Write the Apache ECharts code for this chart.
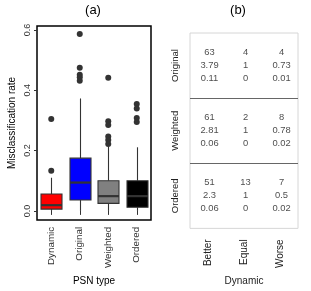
<!DOCTYPE html>
<html><head><meta charset="utf-8">
<script src="https://cdn.jsdelivr.net/npm/echarts@6/dist/echarts.min.js"></script>
<style>html,body{margin:0;padding:0;background:#fff}#c{width:311px;height:291px}</style>
</head><body><div id="c"></div>
<script>
// ---- Panel (a) data ----
const categories = ['Dynamic', 'Original', 'Weighted', 'Ordered'];
const boxColors = ['#ff0000', '#0000ff', '#808080', '#000000'];
// [min, Q1, median, Q3, max]
const boxDynamic  = [0, 0.006, 0.019, 0.056, 0.110];
const boxOriginal = [0, 0.036, 0.094, 0.175, 0.373];
const boxWeighted = [0, 0.025, 0.049, 0.100, 0.213];
const boxOrdered  = [0, 0.012, 0.049, 0.100, 0.211];
const outDynamic  = [0.133, 0.305];
const outOriginal = [0.587, 0.475, 0.452, 0.443, 0.432];
const outWeighted = [0.442, 0.297, 0.285, 0.247, 0.235, 0.222];
const outOrdered  = [0.355, 0.340, 0.308, 0.295];
const yTicks = [0, 0.2, 0.4, 0.6];

// ---- Panel (b) data ----
const tableRows = ['Original', 'Weighted', 'Ordered'];
const tableCols = ['Better', 'Equal', 'Worse'];
const countOriginal = ['63', '4', '4'];
const countWeighted = ['61', '2', '8'];
const countOrdered  = ['51', '13', '7'];
const ratioOriginal = ['3.79', '1', '0.73'];
const ratioWeighted = ['2.81', '1', '0.78'];
const ratioOrdered  = ['2.3', '1', '0.5'];
const diffOriginal  = ['0.11', '0', '0.01'];
const diffWeighted  = ['0.06', '0', '0.02'];
const diffOrdered   = ['0.06', '0', '0.02'];

const boxes = [boxDynamic, boxOriginal, boxWeighted, boxOrdered];
const outs = [outDynamic, outOriginal, outWeighted, outOrdered];
const counts = [countOriginal, countWeighted, countOrdered];
const ratios = [ratioOriginal, ratioWeighted, ratioOrdered];
const diffs = [diffOriginal, diffWeighted, diffOrdered];

const FONT = '"Liberation Sans", Arial, sans-serif';
const EDGE = '#333333';

const boxData = boxes.map((b, i) => [i].concat(b));
const outData = [];
outs.forEach((arr, i) => arr.forEach(v => outData.push([i, v])));

const cellData = [];
tableRows.forEach((r, ri) => tableCols.forEach((c, ci) => {
  cellData.push({ value: [ci, ri], txt: counts[ri][ci] + '\n' + ratios[ri][ci] + '\n' + diffs[ri][ci] });
}));

function renderBox(params, api) {
  const i = api.value(0);
  const pMin = api.coord([i, api.value(1)]);
  const pQ1 = api.coord([i, api.value(2)]);
  const pMed = api.coord([i, api.value(3)]);
  const pQ3 = api.coord([i, api.value(4)]);
  const pMax = api.coord([i, api.value(5)]);
  const w = 21;
  const x = Math.round(pMed[0]) + 0.5;
  const lineStyle = { stroke: EDGE, lineWidth: 1.1 };
  return {
    type: 'group',
    children: [
      { type: 'line', shape: { x1: x, y1: pMax[1], x2: x, y2: pQ3[1] }, style: lineStyle },
      { type: 'line', shape: { x1: x, y1: pQ1[1], x2: x, y2: pMin[1] }, style: lineStyle },
      { type: 'rect', shape: { x: x - w / 2, y: pQ3[1], width: w, height: pQ1[1] - pQ3[1] },
        style: { fill: boxColors[i], stroke: EDGE, lineWidth: 1.1 } },
      { type: 'line', shape: { x1: x - w / 2, y1: pMed[1], x2: x + w / 2, y2: pMed[1] },
        style: { stroke: EDGE, lineWidth: 2.2 } }
    ]
  };
}

const chart = echarts.init(document.getElementById('c'), null, { renderer: 'canvas' });
chart.setOption({
  animation: false,
  textStyle: { fontFamily: FONT },
  graphic: [
    { type: 'text', x: 93, y: 10, style: { text: '(a)', font: '13px ' + FONT, fill: '#000', align: 'center', verticalAlign: 'middle' } },
    { type: 'text', x: 238, y: 10, style: { text: '(b)', font: '13px ' + FONT, fill: '#000', align: 'center', verticalAlign: 'middle' } }
  ],
  grid: [
    { left: 37, width: 114, top: 26, height: 194, show: true, borderColor: '#000', borderWidth: 1.5, backgroundColor: 'transparent', containLabel: false },
    { left: 190, width: 108, top: 33, height: 196, show: true, borderColor: '#d6d6d6', borderWidth: 1, backgroundColor: 'transparent', containLabel: false }
  ],
  xAxis: [
    {
      gridIndex: 0, type: 'category', data: categories, boundaryGap: true,
      axisLine: { show: false },
      axisTick: { show: true, alignWithLabel: true, length: 4, lineStyle: { color: '#333' } },
      axisLabel: { rotate: 90, margin: 7, fontSize: 9.8, color: '#333', fontFamily: FONT },
      name: 'PSN type', nameLocation: 'middle', nameGap: 50,
      nameTextStyle: { fontSize: 10, color: '#000', fontFamily: FONT }
    },
    {
      gridIndex: 1, type: 'category', data: tableCols, boundaryGap: true,
      axisLine: { show: false }, axisTick: { show: false },
      axisLabel: { rotate: 90, margin: 11, fontSize: 10, color: '#222', fontFamily: FONT },
      splitLine: { show: false },
      name: 'Dynamic', nameLocation: 'middle', nameGap: 42,
      nameTextStyle: { fontSize: 10, color: '#222', fontFamily: FONT }
    }
  ],
  yAxis: [
    {
      gridIndex: 0, type: 'value', min: -0.0298, max: 0.6133,
      axisLine: { show: false },
      splitLine: { show: false },
      axisTick: { show: true, length: 3, customValues: yTicks, lineStyle: { color: '#333' } },
      axisLabel: { rotate: 90, margin: 5, fontSize: 9, color: '#333', fontFamily: FONT,
        customValues: yTicks, formatter: v => v.toFixed(1) },
      name: 'Misclassification rate', nameLocation: 'middle', nameGap: 20,
      nameTextStyle: { fontSize: 10, color: '#000', fontFamily: FONT }
    },
    {
      gridIndex: 1, type: 'category', data: tableRows, inverse: true, boundaryGap: true,
      axisLine: { show: false }, axisTick: { show: false },
      axisLabel: { rotate: 90, margin: 10, fontSize: 9.5, color: '#222', fontFamily: FONT },
      splitLine: { show: true, showMinLine: false, showMaxLine: false, lineStyle: { color: '#666', width: 1 } }
    }
  ],
  series: [
    {
      type: 'custom', xAxisIndex: 0, yAxisIndex: 0, data: boxData,
      renderItem: renderBox, encode: { x: 0, y: [1, 2, 3, 4, 5] }, z: 2
    },
    {
      type: 'scatter', xAxisIndex: 0, yAxisIndex: 0, data: outData,
      symbol: 'circle', symbolSize: 6, itemStyle: { color: '#333333', opacity: 1 }, z: 3
    },
    {
      type: 'scatter', xAxisIndex: 1, yAxisIndex: 1, data: cellData,
      symbolSize: 0, silent: true,
      label: {
        show: true, position: 'inside', formatter: p => p.data.txt, offset: [1.5, 0],
        fontSize: 9.4, lineHeight: 13, color: '#1a1a1a', fontFamily: FONT, align: 'center'
      }
    }
  ]
});
</script></body></html>
